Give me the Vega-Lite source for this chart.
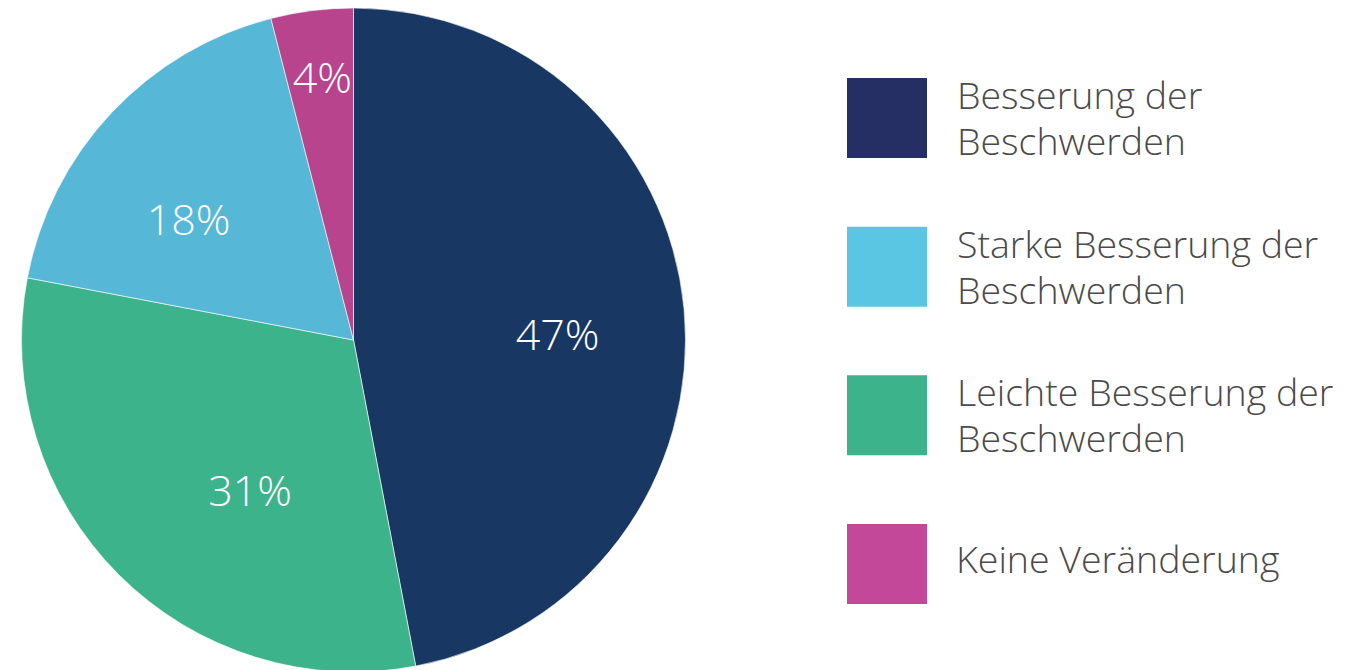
{
  "$schema": "https://vega.github.io/schema/vega-lite/v6.json",
  "padding": 0,
  "background": "white",
  "config": {"view": {"stroke": null}, "font": "Open Sans"},
  "datasets": {
    "slices": [
      {"cat": "Besserung der Beschwerden", "value": 47, "idx": 1, "label": "47%"},
      {"cat": "Leichte Besserung der Beschwerden", "value": 31, "idx": 2, "label": "31%"},
      {"cat": "Starke Besserung der Beschwerden", "value": 18, "idx": 3, "label": "18%"},
      {"cat": "Keine Veränderung", "value": 4, "idx": 4, "label": "4%"}
    ],
    "legend": [
      {"cat": "Besserung der Beschwerden", "text": "Besserung der\nBeschwerden"},
      {"cat": "Starke Besserung der Beschwerden", "text": "Starke Besserung der\nBeschwerden"},
      {"cat": "Leichte Besserung der Beschwerden", "text": "Leichte Besserung der\nBeschwerden"},
      {"cat": "Keine Veränderung", "text": "Keine Veränderung"}
    ]
  },
  "spacing": 0,
  "resolve": {"scale": {"color": "independent"}},
  "hconcat": [
    {
      "width": 707,
      "height": 680,
      "data": {"name": "slices"},
      "encoding": {
        "theta": {"field": "value", "type": "quantitative", "stack": true},
        "order": {"field": "idx", "type": "quantitative"},
        "color": {
          "field": "cat",
          "type": "nominal",
          "legend": null,
          "scale": {
            "domain": ["Besserung der Beschwerden", "Leichte Besserung der Beschwerden", "Starke Besserung der Beschwerden", "Keine Veränderung"],
            "range": ["#183763", "#3DB38C", "#56B7D6", "#B8448E"]
          }
        }
      },
      "layer": [
        {"mark": {"type": "arc", "outerRadius": 332, "stroke": "#ffffff", "strokeWidth": 0.6}},
        {
          "mark": {
            "type": "text",
            "radius": {"expr": "datum.value >= 40 ? 204 : datum.value >= 30 ? 183 : datum.value >= 10 ? 203 : 264"},
            "dx": {"expr": "datum.value >= 40 ? 1 : datum.value >= 30 ? 26 : datum.value >= 10 ? -17 : 2"},
            "dy": {"expr": "datum.value >= 40 ? 16 : datum.value >= 30 ? 24 : datum.value >= 10 ? 21 : 2"},
            "fontSize": 43,
            "fontWeight": 300,
            "font": "Open Sans",
            "fill": "#ffffff",
            "align": "center",
            "baseline": "middle"
          },
          "encoding": {
            "text": {"field": "label", "type": "nominal"},
            "color": {"value": "#ffffff"}
          }
        }
      ]
    },
    {
      "width": 360,
      "height": 680,
      "data": {"name": "legend"},
      "encoding": {
        "y": {
          "field": "cat",
          "type": "nominal",
          "axis": null,
          "sort": null,
          "scale": {
            "type": "point",
            "padding": 0,
            "domain": ["Besserung der Beschwerden", "Starke Besserung der Beschwerden", "Leichte Besserung der Beschwerden", "Keine Veränderung"],
            "range": [118, 564]
          }
        }
      },
      "layer": [
        {
          "mark": {"type": "point", "shape": "square", "size": 6400, "filled": true, "opacity": 1},
          "encoding": {
            "color": {
              "field": "cat",
              "type": "nominal",
              "legend": null,
              "scale": {
                "domain": ["Besserung der Beschwerden", "Starke Besserung der Beschwerden", "Leichte Besserung der Beschwerden", "Keine Veränderung"],
                "range": ["#252F63", "#5BC5E4", "#3DB38C", "#C4489A"]
              }
            }
          }
        },
        {
          "mark": {
            "type": "text",
            "align": "left",
            "baseline": "middle",
            "dx": {"expr": "indexof(datum.text, '\\n') >= 0 ? 70 : 69"},
            "dy": {"expr": "indexof(datum.text, '\\n') >= 0 ? -20 : -2"},
            "fontSize": 37.5,
            "fontWeight": 300,
            "font": "Open Sans",
            "lineBreak": "\n",
            "lineHeight": 46,
            "color": "#4a4a4a"
          },
          "encoding": {"text": {"field": "text", "type": "nominal"}}
        }
      ]
    }
  ]
}
